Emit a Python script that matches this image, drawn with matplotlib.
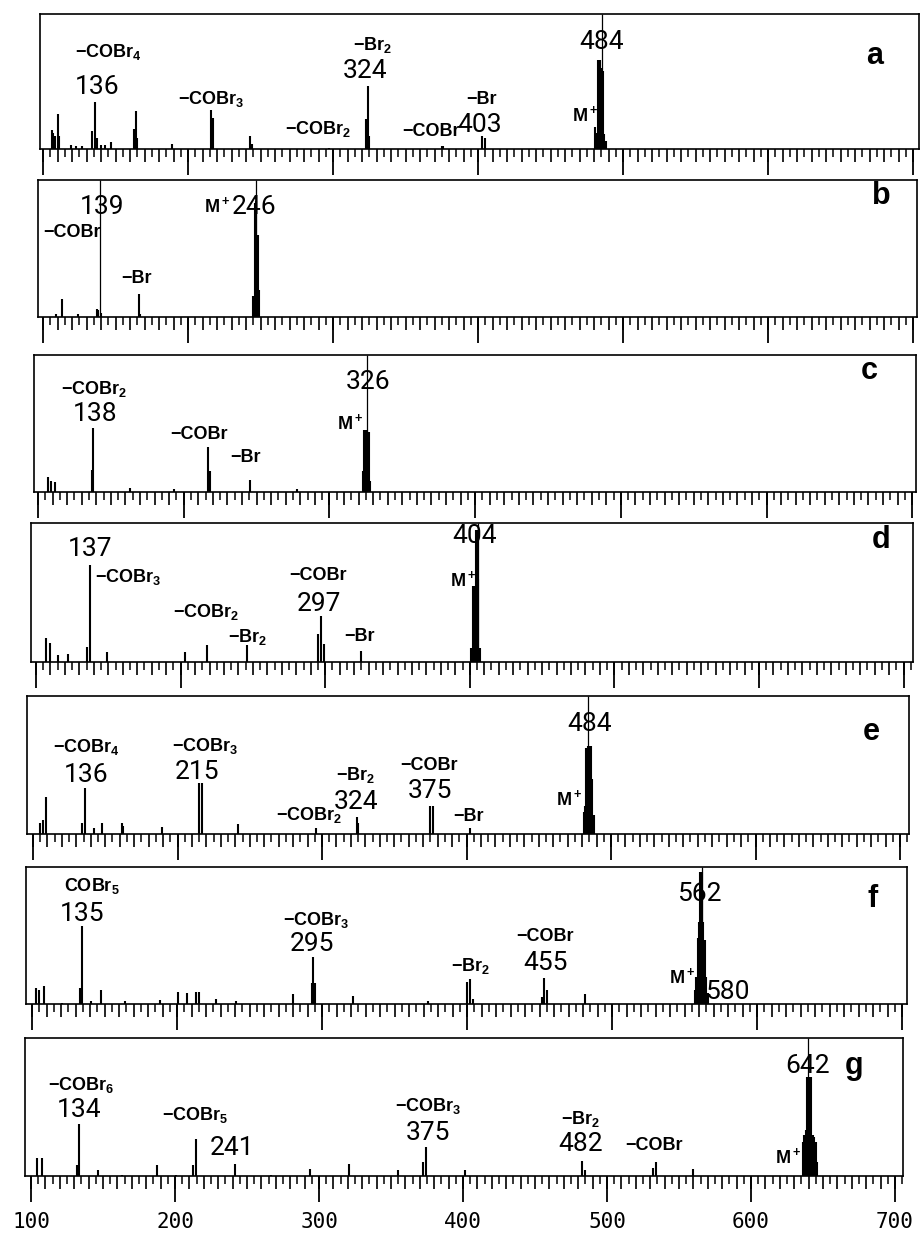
import matplotlib
matplotlib.use("Agg")
import matplotlib.pyplot as plt
from matplotlib.ticker import MultipleLocator

W, H = 921, 1234

# m/z and relative intensity (% of frame height) of each spectrum
a_mz = [106, 107, 108, 110, 111, 119, 123, 127, 134, 136, 137, 140, 143, 147, 163, 164, 165, 189,
        216, 217, 243, 244, 297, 323, 324, 325, 375, 376, 403, 405,
        481, 482, 483, 484, 485, 486, 487, 488]
a_int = [14, 12, 10, 26, 10, 3, 2, 2, 13, 35, 8, 3, 3, 5, 15, 28, 8, 4,
         29, 23, 10, 4, 1, 22, 47, 10, 2, 2, 10, 8,
         16, 12, 66, 66, 60, 58, 11, 6]
a_top = [485.7]

b_mz = [109, 113, 124, 137, 138, 140, 166, 167, 245, 246, 247, 248, 249]
b_int = [2, 13, 2, 6, 5, 3, 17, 2, 15, 83, 85, 60, 20]
b_top = [139.3, 247]

c_mz = [107, 109, 112, 137, 138, 163, 193, 217, 218, 245.5, 277.5, 323, 324, 325, 326, 327, 328]
c_int = [11, 8, 7, 16, 47, 3, 2, 33, 15, 9, 2, 15, 45, 45, 45, 44, 8]
c_top = [325.6]

d_mz = [107, 110, 115, 122, 135.5, 137.3, 149, 203, 218, 246, 295, 297, 299, 325,
        401, 402, 403, 404, 405, 406, 407]
d_int = [17, 14, 5, 6, 11, 70, 7, 7, 12, 12, 20, 33, 13, 8,
         10, 55, 55, 95, 95, 60, 10]
d_top = [405.5]

e_mz = [105, 107, 109, 134, 136, 142, 147.5, 161.5, 162.5, 189, 215, 216.7, 242, 296, 324, 325,
        374.7, 377, 402.4, 481, 482, 483, 484, 485, 486, 487, 488]
e_int = [8, 10, 27, 8, 33, 4, 8, 8, 6, 5, 37, 37, 7, 4, 12, 8,
         20, 20, 4, 16, 20, 62, 64, 64, 64, 40, 14]
e_top = [484.3]

f_mz = [103, 105, 108, 120.5, 133, 134.3, 141, 147.4, 164, 188.3, 200.5, 206.7, 213, 215.4, 227, 241,
        280, 293, 294, 295.2, 321.6, 373.3, 400, 402, 404, 451.5, 453.3, 455, 481.4,
        557, 558, 559, 560, 561, 562, 563, 564, 565, 566]
f_int = [12, 10, 13, 1, 12, 57, 2, 10, 2, 3, 9, 8, 9, 9, 4, 2,
         7, 15, 34, 15, 6, 2, 16, 18, 4, 5, 19, 10, 7,
         10, 20, 48, 60, 96, 96, 60, 47, 20, 8]
f_top = [561.8]

g_mz = [104.4, 107.4, 131.7, 133.6, 146.8, 163, 187.3, 200.7, 212.7, 214.4, 241.7, 267, 293.8, 321,
        355, 372.5, 374.1, 401.4, 482.4, 484.7, 532.2, 534, 560,
        636, 637, 638, 639, 640, 641, 642, 643, 644, 645, 646]
g_int = [13, 13, 8, 38, 4, 1, 8, 1, 8, 27, 9, 1, 5, 9,
         4, 10, 21, 4, 11, 4, 6, 10, 5,
         25, 30, 33, 72, 72, 72, 72, 30, 28, 25, 10]
g_top = [639.8]

mass_ticks = [100, 200, 300, 400, 500, 600, 700]

# annotations: text, m/z of left edge, height (%), kind
a_notes = [("−COBr$_4$", 122, 72, "f"), ("136", 122, 46, "n"), ("−COBr$_3$", 193, 37, "f"),
           ("−Br$_2$", 314, 77, "f"), ("324", 307, 58, "n"), ("−COBr$_2$", 267, 15, "f"),
           ("−COBr", 348, 13, "f"), ("−Br", 392, 37, "f"), ("403", 386, 18, "n"),
           ("M$^+$", 465, 25, "f"), ("484", 470, 79, "n"), ("a", 668, 69, "L")]
b_notes = [("139", 125.5, 80, "n"), ("−COBr", 100, 62, "f"), ("−Br", 154, 28, "f"),
           ("M$^+$", 211, 81, "f"), ("246", 230, 80, "n"), ("b", 672, 88, "L")]
c_notes = [("−COBr$_2$", 116, 75, "f"), ("138", 124, 57, "n"), ("−COBr", 191, 42, "f"),
           ("−Br", 232, 25, "f"), ("326", 311, 80, "n"), ("M$^+$", 305, 50, "f"),
           ("c", 665, 88, "L")]
d_notes = [("137", 122, 81, "n"), ("−COBr$_3$", 141, 61, "f"), ("−COBr$_2$", 195, 36, "f"),
           ("−Br$_2$", 233, 18, "f"), ("−COBr", 275, 62, "f"), ("297", 280, 42, "n"),
           ("−Br", 313, 18, "f"), ("404", 388, 91, "n"), ("M$^+$", 386, 59, "f"),
           ("d", 678, 88, "L")]
e_notes = [("−COBr$_4$", 114, 63, "f"), ("136", 121, 43, "n"), ("−COBr$_3$", 196, 64, "f"),
           ("215", 198, 45, "n"), ("−Br$_2$", 310, 43, "f"), ("324", 308, 23, "n"),
           ("−COBr$_2$", 268, 14, "f"), ("−COBr", 354, 50, "f"), ("375", 359, 31, "n"),
           ("−Br", 391, 13, "f"), ("M$^+$", 462, 25, "f"), ("484", 470, 80, "n"),
           ("e", 674, 74, "L")]
f_notes = [("COBr$_5$", 122, 86, "f"), ("135", 119, 66, "n"), ("−COBr$_3$", 273, 61, "f"),
           ("295", 278, 44, "n"), ("−Br$_2$", 389, 28, "f"), ("−COBr", 434, 49, "f"),
           ("455", 439, 30, "n"), ("M$^+$", 539, 20, "f"), ("562", 545, 80, "n"),
           ("580", 564, 9, "n"), ("f", 676, 77, "L")]
g_notes = [("−COBr$_6$", 112, 66, "f"), ("134", 118, 48, "n"), ("−COBr$_5$", 191, 44, "f"),
           ("241", 224, 20, "n"), ("−COBr$_3$", 353, 51, "f"), ("375", 360, 31, "n"),
           ("−Br$_2$", 468, 41, "f"), ("482", 466, 23, "n"), ("−COBr", 513, 22, "f"),
           ("M$^+$", 617, 14, "f"), ("642", 624, 80, "n"), ("g", 665, 80, "L")]

plt.rcParams["mathtext.fontset"] = "custom"
plt.rcParams["mathtext.rm"] = "Liberation Sans:bold"
plt.rcParams["mathtext.it"] = "Liberation Sans:bold"
plt.rcParams["mathtext.bf"] = "Liberation Sans:bold"

FRAG = dict(family=["Liberation Sans", "DejaVu Sans"], weight="bold", size=13)
NUM = dict(family=["Roboto", "DejaVu Sans"], weight="normal", size=19)
LETTER = dict(family=["Liberation Sans", "DejaVu Sans"], weight="bold", size=22)

# frame in pixels (left, top, right, baseline), pixel of m/z 100, pixels per m/z
panels = [
    (a_mz, a_int, a_top, a_notes, (40, 14, 919, 149), 43, 1.45),
    (b_mz, b_int, b_top, b_notes, (38, 180, 917, 317), 43, 1.45),
    (c_mz, c_int, c_top, c_notes, (34, 355, 916, 492), 38, 1.457),
    (d_mz, d_int, d_top, d_notes, (31, 523, 913, 662), 36, 1.446),
    (e_mz, e_int, e_top, e_notes, (27, 696, 909, 834), 33, 1.445),
    (f_mz, f_int, f_top, f_notes, (26, 867, 907, 1004), 32, 1.45),
    (g_mz, g_int, g_top, g_notes, (25, 1038, 903, 1176), 31, 1.44),
]

fig = plt.figure(figsize=(W / 100, H / 100), dpi=100)

for i, (mz, inten, top, notes, box, x0, scale) in enumerate(panels):
    left, topp, right, base = box
    ax = fig.add_axes([left / W, 1 - base / H, (right - left) / W, (base - topp) / H])
    ax.set_xlim(100 + (left - x0) / scale, 100 + (right - x0) / scale)
    ax.set_ylim(0, 100)

    ax.vlines(mz, 0, inten, colors="black", lw=1.5)
    ax.vlines(top, 0, 100, colors="black", lw=0.9)

    for s, xm, ym, kind in notes:
        style = {"f": FRAG, "n": NUM, "L": LETTER}[kind]
        ax.text(xm, ym, s, ha="left", va="center", color="black", **style)

    for sp in ax.spines.values():
        sp.set_linewidth(1.2)
    ax.set_yticks([])
    ax.xaxis.set_major_locator(MultipleLocator(10))
    ax.xaxis.set_minor_locator(MultipleLocator(5))
    ax.tick_params(axis="x", which="major", direction="out", length=9, width=1.2, labelbottom=False)
    ax.tick_params(axis="x", which="minor", direction="out", length=6, width=1.1)

    sec = ax.secondary_xaxis("bottom")
    sec.set_xticks(mass_ticks)
    sec.spines["bottom"].set_visible(False)
    sec.tick_params(length=19, width=1.3, pad=7)
    if i == len(panels) - 1:
        sec.set_xticklabels([str(m) for m in mass_ticks],
                            fontfamily=["DejaVu Sans Mono"], fontsize=15)
    else:
        sec.set_xticklabels([])

fig.savefig("out.png", dpi=100)
